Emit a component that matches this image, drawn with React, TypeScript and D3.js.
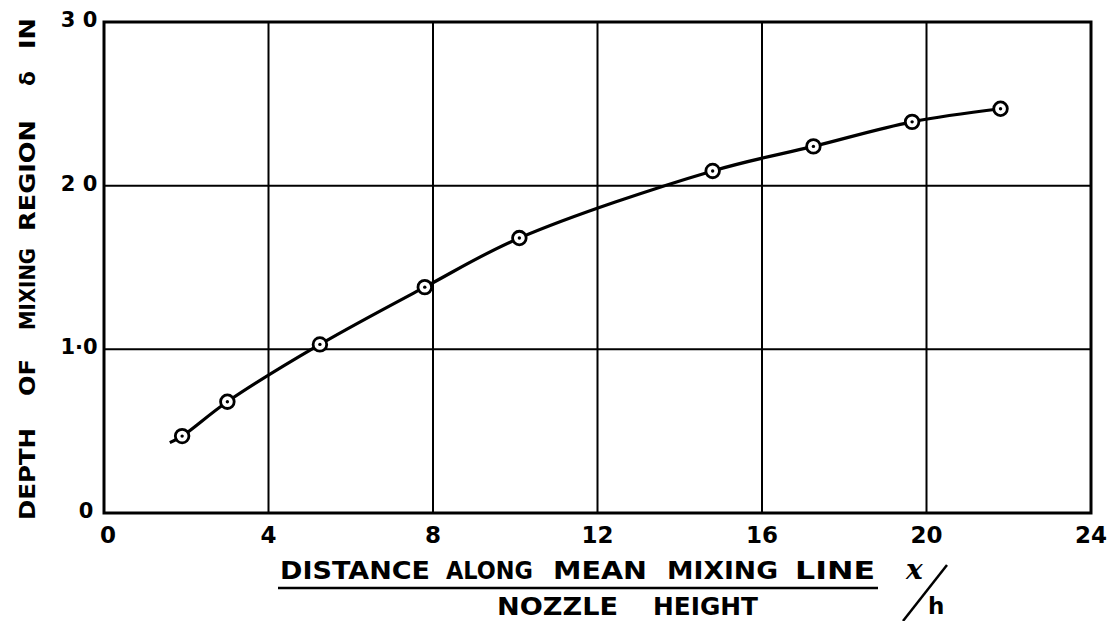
import React from "react";
import * as d3 from "d3";

// Measured depth of the mixing region against x/h
const xOverH = [1.9, 3.0, 5.25, 7.8, 10.1, 14.8, 17.25, 19.65, 21.8];
const depth = [0.47, 0.68, 1.03, 1.38, 1.68, 2.09, 2.24, 2.39, 2.47];
// Faired curve starts slightly before the first measurement
const curveStart = { x: 1.6, y: 0.43 };

const xTicks = [0, 4, 8, 12, 16, 20, 24];
const xTickLabels = ["0", "4", "8", "12", "16", "20", "24"];
const yTicks = [0, 1, 2, 3];
const yTickLabels = ["0", "1·0", "2 0", "3 0"];

// Lettered titles, word by word: [word, start, end] along the text direction
const yTitleWords: [string, number, number][] = [
  ["DEPTH", 520, 428],
  ["OF", 396, 359],
  ["MIXING", 330, 248],
  ["REGION", 231, 120],
  ["δ", 86, 71],
  ["IN", 49, 18],
];
const xTitleWords: [string, number, number][] = [
  ["DISTANCE", 280, 430],
  ["ALONG", 446, 533],
  ["MEAN", 553, 647],
  ["MIXING", 667, 778],
  ["LINE", 795, 875],
];
const xSubWords: [string, number, number][] = [
  ["NOZZLE", 497, 618],
  ["HEIGHT", 653, 758],
];

const W = 1115;
const H = 621;
const left = 104;
const right = 1091;
const top = 22;
const bottom = 513;

const font = "'DejaVu Sans', Verdana, sans-serif";

export default function App() {
  const x = d3.scaleLinear().domain([0, 24]).range([left, right]);
  const y = d3.scaleLinear().domain([0, 3]).range([bottom, top]);

  const pts = [curveStart, ...xOverH.map((v, i) => ({ x: v, y: depth[i] }))];
  const line = d3
    .line<{ x: number; y: number }>()
    .x((d) => x(d.x))
    .y((d) => y(d.y))
    .curve(d3.curveCatmullRom.alpha(0.5));

  const word = (w: string, a: number, b: number, base: number, key: string, size: number) => (
    <text
      key={key}
      x={a}
      y={base}
      fontFamily={font}
      fontWeight="bold"
      fontSize={size}
      textLength={b - a}
      lengthAdjust="spacingAndGlyphs"
    >
      {w}
    </text>
  );

  return (
    <svg
      width={W}
      height={H}
      style={{ position: "absolute", left: 0, top: 0, background: "#fff" }}
    >
      {/* grid */}
      {xTicks.slice(1, -1).map((t) => (
        <line key={"gx" + t} x1={x(t)} x2={x(t)} y1={top} y2={bottom} stroke="#000" strokeWidth={2} />
      ))}
      {yTicks.slice(1, -1).map((t) => (
        <line key={"gy" + t} x1={left} x2={right} y1={y(t)} y2={y(t)} stroke="#000" strokeWidth={2} />
      ))}
      {/* frame */}
      <rect x={left} y={top} width={right - left} height={bottom - top} fill="none" stroke="#000" strokeWidth={3} />

      {/* faired curve */}
      <path d={line(pts) || ""} fill="none" stroke="#000" strokeWidth={3.2} />

      {/* measured points */}
      {xOverH.map((v, i) => (
        <g key={"p" + i}>
          <circle cx={x(v)} cy={y(depth[i])} r={6.8} fill="#fff" stroke="#000" strokeWidth={2.8} />
          <circle cx={x(v)} cy={y(depth[i])} r={1.7} fill="#000" />
        </g>
      ))}

      {/* y tick labels */}
      {yTicks.map((t, i) => (
        <text
          key={"yl" + t}
          x={t === 0 ? 86 : 79}
          y={y(t) - 2}
          textAnchor="middle"
          dominantBaseline="central"
          fontFamily={font}
          fontWeight="bold"
          fontSize={21}
        >
          {yTickLabels[i]}
        </text>
      ))}

      {/* x tick labels */}
      {xTicks.map((t, i) => (
        <text
          key={"xl" + t}
          x={x(t) + (t === 0 ? 4 : 0)}
          y={535}
          textAnchor="middle"
          dominantBaseline="central"
          fontFamily={font}
          fontWeight="bold"
          fontSize={23}
        >
          {xTickLabels[i]}
        </text>
      ))}

      {/* y title, lettered bottom to top */}
      <g transform="translate(35,0) rotate(-90)">
        {yTitleWords.map(([w, a, b], i) => word(w, -a, -b, 0, "yt" + i, 22))}
      </g>

      {/* x title: fraction */}
      {xTitleWords.map(([w, a, b], i) => word(w, a, b, 579, "xt" + i, 24))}
      <line x1={278} x2={878} y1={588} y2={588} stroke="#000" strokeWidth={2.5} />
      {xSubWords.map(([w, a, b], i) => word(w, a, b, 615, "xs" + i, 24))}

      {/* x/h symbol */}
      <text x={906} y={579} fontFamily="'DejaVu Serif', serif" fontStyle="italic" fontWeight="bold" fontSize={28}>
        x
      </text>
      <line x1={947} y1={565} x2={903} y2={621} stroke="#000" strokeWidth={2.5} />
      <text x={928} y={614} fontFamily={font} fontWeight="bold" fontSize={23}>
        h
      </text>
    </svg>
  );
}
